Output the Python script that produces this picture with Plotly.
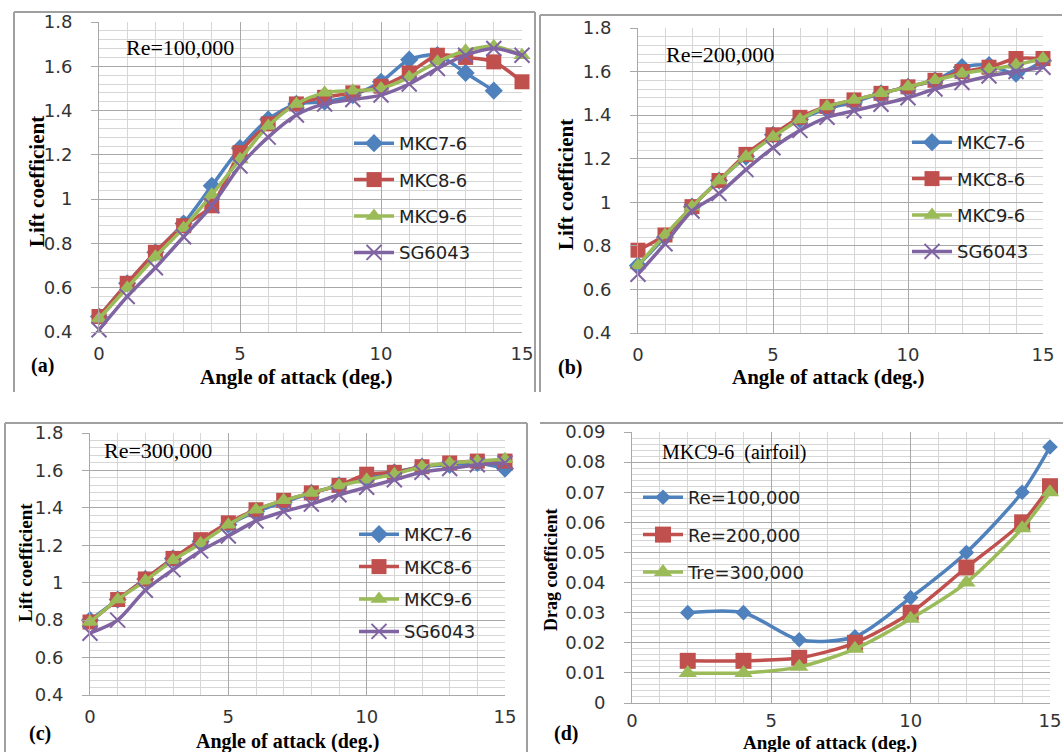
import plotly.graph_objects as go

W, H = 1063, 752
def X(px): return px / W
def Y(py): return 1 - py / H

alpha = list(range(16))
names = ["MKC7-6", "MKC8-6", "MKC9-6", "SG6043"]

# Panel (a) Re=100,000
a_mkc7 = [0.47, 0.62, 0.76, 0.89, 1.06, 1.23, 1.36, 1.43, 1.44, 1.47, 1.53, 1.63, 1.65, 1.57, 1.49]
a_mkc8 = [0.47, 0.62, 0.76, 0.88, 0.97, 1.21, 1.34, 1.43, 1.46, 1.48, 1.51, 1.57, 1.65, 1.64, 1.62, 1.53]
a_mkc9 = [0.46, 0.60, 0.74, 0.87, 1.02, 1.18, 1.33, 1.43, 1.48, 1.49, 1.50, 1.55, 1.62, 1.67, 1.69, 1.65]
a_sg = [0.41, 0.56, 0.69, 0.83, 0.97, 1.15, 1.28, 1.38, 1.43, 1.45, 1.47, 1.52, 1.59, 1.65, 1.68, 1.65]

# Panel (b) Re=200,000
b_mkc7 = [0.71, 0.84, 0.98, 1.10, 1.21, 1.31, 1.38, 1.43, 1.46, 1.50, 1.53, 1.56, 1.62, 1.63, 1.59, 1.65]
b_mkc8 = [0.78, 0.85, 0.98, 1.10, 1.22, 1.31, 1.39, 1.44, 1.47, 1.50, 1.53, 1.56, 1.60, 1.62, 1.66, 1.66]
b_mkc9 = [0.71, 0.85, 0.98, 1.10, 1.21, 1.30, 1.38, 1.44, 1.47, 1.50, 1.53, 1.56, 1.59, 1.61, 1.63, 1.66]
b_sg = [0.67, 0.81, 0.96, 1.04, 1.15, 1.25, 1.33, 1.39, 1.42, 1.45, 1.48, 1.52, 1.55, 1.58, 1.60, 1.62]

# Panel (c) Re=300,000
c_mkc7 = [0.80, 0.91, 1.02, 1.13, 1.22, 1.31, 1.38, 1.43, 1.48, 1.52, 1.56, 1.59, 1.62, 1.63, 1.64, 1.61]
c_mkc8 = [0.79, 0.91, 1.02, 1.13, 1.23, 1.32, 1.39, 1.44, 1.48, 1.52, 1.58, 1.59, 1.62, 1.64, 1.65, 1.65]
c_mkc9 = [0.79, 0.91, 1.01, 1.12, 1.21, 1.31, 1.39, 1.44, 1.48, 1.52, 1.55, 1.58, 1.62, 1.64, 1.65, 1.66]
c_sg = [0.73, 0.80, 0.96, 1.07, 1.17, 1.25, 1.33, 1.38, 1.42, 1.47, 1.51, 1.55, 1.59, 1.61, 1.63, 1.64]

# Panel (d) drag, MKC9-6
d_alpha = [2, 4, 6, 8, 10, 12, 14, 15]
d_names = ["Re=100,000", "Re=200,000", "Tre=300,000"]
d_re100 = [0.030, 0.030, 0.021, 0.022, 0.035, 0.050, 0.070, 0.085]
d_re200 = [0.014, 0.014, 0.015, 0.020, 0.030, 0.045, 0.060, 0.072]
d_re300 = [0.010, 0.010, 0.012, 0.018, 0.028, 0.040, 0.058, 0.070]

colors = ["#4f81bd", "#c0504d", "#9bbb59", "#8064a2"]
symbols = ["diamond", "square", "triangle-up", "x-thin"]
msizes = [14, 15, 15, 15]

SANS = "DejaVu Sans"
SERIF = "Liberation Serif"

fig = go.Figure()

def add_series(xs, ys, i, name, xa, ya, leg, msize=None):
    m = dict(symbol=symbols[i], size=msize or msizes[i], color=colors[i])
    if symbols[i] == "x-thin":
        m["line"] = dict(color=colors[i], width=2)
    fig.add_trace(go.Scatter(
        x=xs, y=ys, name=name, mode="lines+markers",
        line=dict(color=colors[i], width=3.5, shape="spline", smoothing=0.8),
        marker=m, xaxis=xa, yaxis=ya, legend=leg, legendgroup=leg + name,
        cliponaxis=False))

lift_sets = [
    ([a_mkc7, a_mkc8, a_mkc9, a_sg], "x", "y", "legend"),
    ([b_mkc7, b_mkc8, b_mkc9, b_sg], "x2", "y2", "legend2"),
    ([c_mkc7, c_mkc8, c_mkc9, c_sg], "x3", "y3", "legend3"),
]
for series, xa, ya, leg in lift_sets:
    for i, ys in enumerate(series):
        add_series(alpha[:len(ys)], ys, i, names[i], xa, ya, leg)

for i, ys in enumerate([d_re100, d_re200, d_re300]):
    add_series(d_alpha, ys, i, d_names[i], "x4", "y4", "legend4",
               msize=[12, 16, 16][i])

MAJ = "#a8a8a8"
MIN = "#d6d6d6"
TICKFONT = dict(family=SANS, size=18, color="#333")

def xax(dom, anchor, standoff=5):
    return dict(domain=dom, anchor=anchor, range=[0, 15], dtick=5, tick0=0,
                showgrid=True, gridcolor=MAJ, gridwidth=1,
                minor=dict(dtick=1, showgrid=True, gridcolor=MIN, gridwidth=1),
                showline=True, linecolor=MAJ, linewidth=1, zeroline=False,
                ticks="", tickfont=TICKFONT, automargin=False,
                ticklabelstandoff=standoff, fixedrange=True)

def yax(dom, anchor, rng, dt, mdt):
    return dict(domain=dom, anchor=anchor, range=rng, dtick=dt, tick0=rng[0],
                showgrid=True, gridcolor=MAJ, gridwidth=1,
                minor=dict(dtick=mdt, showgrid=True, gridcolor=MIN, gridwidth=1,
                           ticks=""),
                showline=True, linecolor=MAJ, linewidth=1, zeroline=False,
                ticks="outside", ticklen=7, tickcolor=MAJ, automargin=False,
                ticklabelstandoff=15, tickfont=TICKFONT, fixedrange=True)

layout = dict(
    width=W, height=H, margin=dict(l=0, r=0, t=0, b=0, pad=0, autoexpand=False),
    paper_bgcolor="white", plot_bgcolor="white", showlegend=True,
    xaxis=xax([X(99), X(522)], "y"),
    yaxis=yax([Y(332), Y(22)], "x", [0.4, 1.8], 0.2, 0.04),
    xaxis2=xax([X(638), X(1043)], "y2"),
    yaxis2=yax([Y(333), Y(28)], "x2", [0.4, 1.8], 0.2, 0.04),
    xaxis3=xax([X(90), X(505)], "y3"),
    yaxis3=yax([Y(695), Y(433)], "x3", [0.4, 1.8], 0.2, 0.04),
    xaxis4=xax([X(632), X(1050)], "y4", standoff=1),
    yaxis4=yax([Y(703), Y(432)], "x4", [0, 0.09], 0.01, 0.002),
)

def legend(xp, yp, gap):
    return dict(x=X(xp), y=Y(yp), xanchor="left", yanchor="top",
                bgcolor="rgba(0,0,0,0)", font=dict(family=SANS, size=18, color="#222"),
                tracegroupgap=gap, itemsizing="trace", itemwidth=40)

layout["legend"] = legend(349, 125, 10)
layout["legend2"] = legend(907, 124, 10)
layout["legend3"] = legend(354, 516, 6)
layout["legend4"] = legend(638, 479, 11)
fig.update_layout(**layout)

shapes = []
# panel frames
fr = dict(type="line", xref="paper", yref="paper", line=dict(color="#a0a0a0", width=2))
for (x0, y0, x1, y1) in [(14, 12, 535, 12), (14, 12, 14, 392), (535, 12, 535, 392),
                         (540, 15, 1062, 15), (540, 15, 540, 392),
                         (5, 423, 527, 423), (5, 423, 5, 752), (527, 423, 527, 752),
                         (540, 423, 1063, 423)]:
    s = dict(fr); s.update(x0=X(x0), y0=Y(y0), x1=X(x1), y1=Y(y1)); shapes.append(s)

# white label boxes on the grid
for (x0, y0, x1, y1) in [(100, 30, 297, 65), (650, 36, 836, 64),
                         (95, 436, 268, 463), (640, 436, 843, 468)]:
    shapes.append(dict(type="rect", xref="paper", yref="paper", layer="between",
                       x0=X(x0), y0=Y(y0), x1=X(x1), y1=Y(y1),
                       fillcolor="white", line=dict(width=0)))
fig.update_layout(shapes=shapes)

ann = []
def txt(s, xp, yp, size, family=SERIF, bold=False, angle=0, xanchor="center"):
    ann.append(dict(text=("<b>%s</b>" % s) if bold else s, x=X(xp), y=Y(yp),
                    xref="paper", yref="paper", showarrow=False, textangle=angle,
                    xanchor=xanchor, yanchor="middle",
                    font=dict(family=family, size=size, color="black")))

txt("Re=100,000", 124, 47, 22, xanchor="left")
txt("Re=200,000", 664, 55, 22, xanchor="left")
txt("Re=300,000", 102, 450, 22, xanchor="left")
txt("MKC9-6  (airfoil)", 660, 452, 20, xanchor="left")

for cx, cy, sz in [(296, 377, 21), (828, 377, 21), (287, 741, 20), (830, 743, 19)]:
    txt("Angle of attack (deg.)", cx, cy, sz, bold=True)
for cx, cy, sz in [(37, 182, 21), (566, 185, 21), (25, 563, 19)]:
    txt("Lift coefficient", cx, cy, sz, bold=True, angle=-90)
txt("Drag coefficient", 551, 570, 18, bold=True, angle=-90)

for s, cx, cy in [("(a)", 42, 365), ("(b)", 570, 368), ("(c)", 40, 733), ("(d)", 566, 733)]:
    txt(s, cx, cy, 20, bold=True)

fig.update_layout(annotations=ann)
fig.write_html(
    "out.html",
    config={"displayModeBar": False},
    post_script="document.body.style.margin='0';"
                "document.documentElement.style.overflow='hidden';"
                "document.body.style.overflow='hidden';")
